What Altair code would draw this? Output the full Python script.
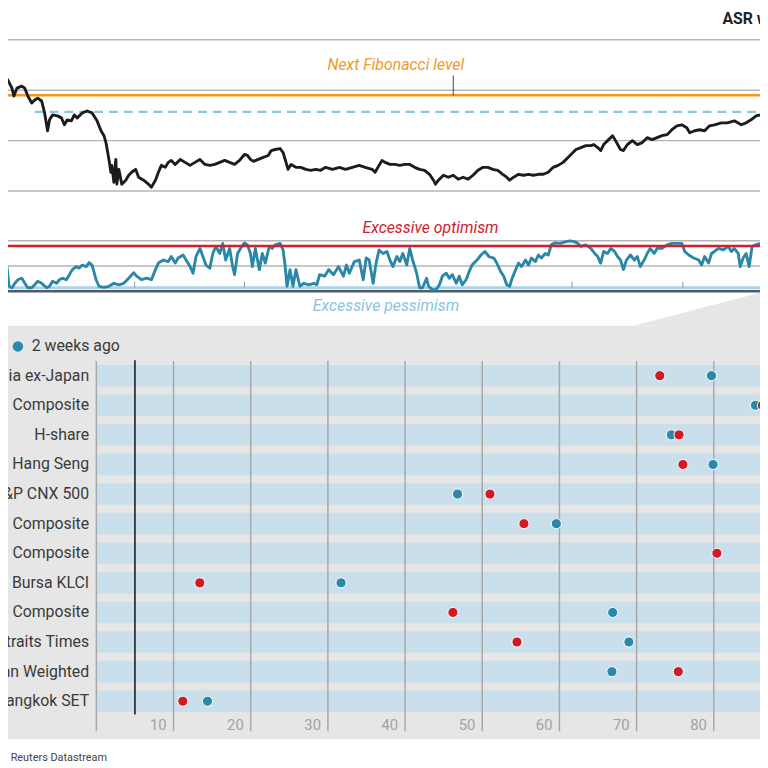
import altair as alt
import pandas as pd

FONT = "Roboto"
W, H = 760, 760

title_text = "ASR weekly sentiment"
source_text = "Source: Thomson Reuters Datastream"

# ---------------- price panel ----------------
price_t = [0, 5, 8, 12, 14, 17, 22, 25, 28, 32, 35, 38, 42, 45, 48, 50, 53, 58, 62, 65,
           68, 72, 75, 78, 83, 88, 93, 98, 102, 105, 107, 110, 112, 113, 115, 117, 118, 120, 123, 127,
           130, 133, 137, 140, 145, 150, 153, 157, 160, 163, 167, 170, 173, 177, 182, 187, 192, 197, 202, 207,
           212, 217, 222, 227, 232, 237, 242, 247, 250, 253, 256, 261, 266, 271, 274, 278, 283, 286, 289, 291,
           294, 299, 304, 309, 314, 319, 324, 329, 336, 343, 349, 356, 363, 369, 376, 379, 383, 386, 389, 394,
           399, 404, 409, 414, 419, 424, 429, 434, 438, 440, 443, 448, 453, 458, 463, 468, 473, 478, 483, 488,
           493, 498, 503, 508, 512, 515, 519, 524, 529, 534, 539, 544, 549, 554, 559, 564, 569, 574, 579, 582,
           587, 592, 597, 600, 604, 607, 610, 614, 619, 622, 627, 630, 634, 639, 644, 649, 654, 659, 664, 669,
           674, 679, 684, 689, 694, 697, 702, 707, 712, 717, 722, 729, 735, 742, 749, 754, 759, 764, 768]
price_v = [530.0, 527.5, 519.6, 503.9, 488.3, 503.9, 507.9, 503.9, 488.3, 474.5, 480.4, 484.3, 478.5, 454.9, 419.6, 441.2, 451.0, 449.0, 445.1, 431.4,
           441.2, 439.2, 451.0, 445.1, 454.9, 458.8, 454.9, 439.2, 419.6, 409.8, 396.1, 362.8, 337.3, 351.0, 317.6, 362.8, 313.7, 343.1, 313.7, 321.6,
           331.4, 337.3, 343.1, 327.5, 321.6, 313.7, 307.8, 321.6, 337.3, 351.0, 347.1, 356.9, 360.8, 352.9, 362.8, 356.9, 351.0, 356.9, 362.8, 352.9,
           351.0, 352.9, 356.9, 360.8, 356.9, 352.9, 360.8, 372.6, 370.6, 362.8, 358.8, 362.8, 366.7, 370.6, 380.4, 382.4, 384.3, 376.5, 356.9, 343.1,
           352.9, 347.1, 347.1, 343.1, 341.2, 343.1, 341.2, 347.1, 343.1, 347.1, 343.1, 347.1, 351.0, 347.1, 343.1, 337.3, 351.0, 360.8, 356.9, 352.9,
           352.9, 351.0, 352.9, 352.9, 347.1, 343.1, 341.2, 333.3, 321.6, 313.7, 321.6, 331.4, 327.5, 331.4, 323.5, 327.5, 323.5, 331.4, 341.2, 347.1,
           347.1, 343.1, 341.2, 333.3, 327.5, 321.6, 327.5, 333.3, 331.4, 333.3, 331.4, 333.3, 333.3, 337.3, 347.1, 351.0, 356.9, 366.7, 376.5, 382.4,
           386.3, 390.2, 390.2, 392.2, 386.3, 380.4, 392.2, 400.0, 409.8, 400.0, 382.4, 380.4, 392.2, 400.0, 392.2, 396.1, 405.9, 402.0, 405.9, 409.8,
           411.8, 421.6, 429.4, 431.4, 425.5, 415.7, 419.6, 421.6, 419.6, 429.4, 431.4, 435.3, 435.3, 439.2, 431.4, 435.3, 441.2, 449.0, 451.0]
assert len(price_t) == len(price_v)
price_grid = [300, 400, 500, 600]
fib_next = 490
fib_dash = 457
fib_dash_start = 35
fib_label_t = 458
fib_label_top = 529

# ---------------- sentiment oscillator ----------------
osc_t = [0, 3, 5, 7, 9, 12, 15, 18, 22, 25, 28, 32, 35, 38, 42, 47, 50, 53, 57, 60,
         63, 67, 70, 73, 77, 80, 83, 87, 90, 93, 97, 100, 105, 110, 115, 120, 125, 130, 135, 138,
         143, 148, 153, 157, 160, 165, 170, 173, 177, 180, 185, 188, 192, 195, 198, 202, 205, 208, 212, 215,
         218, 222, 225, 228, 232, 235, 237, 240, 243, 247, 250, 253, 255, 258, 262, 265, 268, 272, 275, 278,
         283, 286, 288, 290, 293, 296, 299, 303, 307, 312, 317, 320, 323, 328, 332, 337, 342, 347, 350, 353,
         358, 363, 367, 370, 373, 377, 380, 383, 387, 391, 394, 397, 401, 404, 407, 411, 414, 417, 421, 424,
         427, 431, 433, 437, 441, 444, 447, 451, 454, 457, 461, 464, 467, 471, 474, 477, 482, 486, 490, 494,
         499, 502, 506, 509, 512, 515, 517, 521, 524, 527, 531, 534, 537, 541, 544, 547, 551, 554, 557, 561,
         566, 571, 576, 581, 584, 587, 592, 597, 601, 604, 607, 610, 614, 617, 621, 624, 627, 630, 633, 637,
         641, 644, 647, 651, 654, 657, 661, 664, 669, 674, 679, 684, 689, 692, 696, 701, 706, 709, 712, 716,
         719, 722, 726, 731, 736, 739, 742, 746, 748, 751, 754, 757, 760, 764, 768]
osc_v = [56, 59, 36, 49, 10, 7, 16, 23, 26, 16, 7, 7, 13, 20, 16, 7, 10, 20, 16, 23,
         26, 23, 33, 43, 49, 46, 52, 49, 57, 52, 23, 10, 8, 10, 16, 13, 16, 26, 37, 30,
         23, 26, 23, 43, 56, 62, 59, 69, 56, 66, 72, 62, 49, 36, 69, 85, 69, 52, 46, 75,
         89, 75, 95, 62, 85, 49, 33, 75, 85, 96, 92, 75, 49, 85, 43, 75, 56, 89, 85, 92,
         95, 82, 52, 10, 43, 10, 43, 10, 16, 13, 16, 13, 33, 30, 43, 33, 49, 30, 52, 36,
         59, 62, 23, 66, 62, 16, 56, 82, 75, 79, 62, 49, 69, 59, 75, 52, 85, 62, 36, 7,
         7, 26, 10, 3, 4, 13, 30, 36, 26, 33, 16, 30, 13, 23, 39, 52, 62, 72, 79, 69,
         66, 56, 39, 30, 13, 10, 23, 43, 56, 49, 62, 52, 66, 59, 72, 66, 75, 72, 92, 96,
         95, 98, 100, 98, 95, 89, 92, 85, 75, 69, 56, 79, 75, 85, 79, 69, 62, 43, 62, 72,
         62, 69, 49, 62, 75, 85, 75, 85, 85, 92, 95, 95, 95, 79, 72, 66, 62, 52, 69, 56,
         75, 79, 85, 82, 89, 79, 85, 75, 49, 66, 75, 49, 89, 92, 95]
assert len(osc_t) == len(osc_v)
optimism = 90
pessimism = 7
osc_grid = [50, 100]
year_ticks = [136, 247, 578, 690]

# ---------------- dot plot ----------------
categories = ["MSCI Asia ex-Japan", "Shanghai Composite", "H-share", "Hang Seng",
              "S&P CNX 500", "Jakarta Composite", "Korea Composite", "FTSE Bursa KLCI",
              "Philippine Composite", "Straits Times", "Taiwan Weighted", "Bangkok SET"]
latest = [73.0, 86.3, 75.5, 76.0, 51.0, 55.4, 80.4, 13.4, 46.2, 54.5, 75.4, 11.2]
two_weeks = [79.7, 85.4, 74.5, 79.9, 46.8, 59.6, 88.0, 31.7, 66.9, 69.0, 66.8, 14.4]
dot_ticks = [10, 20, 30, 40, 50, 60, 70, 80]
dot_grid = [0] + dot_ticks
marker_line = 5
legend_label = "2 weeks ago"

RED = "#cf1b23"
TEAL = "#2a89a8"
GREY_BG = "#e6e6e6"

T_SCALE = alt.Scale(domain=[8, 768], range=[0, 760], zero=False, nice=False)
P_SCALE = alt.Scale(domain=[300, 600], range=[181, 28], zero=False, nice=False)
O_SCALE = alt.Scale(domain=[0, 100], range=[282.3, 231.3], zero=False, nice=False)
D_SCALE = alt.Scale(domain=[0, 90], range=[89.3, 791.3], zero=False, nice=False)
C_SCALE = alt.Scale(domain=categories, range=[352.6, 711.5], paddingInner=0.27, paddingOuter=0.135)

one = pd.DataFrame({"k": [0]})
price_df = pd.DataFrame({"t": price_t, "v": price_v})
osc_df = pd.DataFrame({"t": osc_t, "v": osc_v})
dots_df = pd.DataFrame({"cat": categories, "latest": latest, "two": two_weeks,
                        "x0": [0] * len(categories), "x1": [90] * len(categories)})

def tx(field="t"):
    return alt.X(f"{field}:Q", scale=T_SCALE, axis=None)

def py(field="v"):
    return alt.Y(f"{field}:Q", scale=P_SCALE, axis=None)

def oy(field="v"):
    return alt.Y(f"{field}:Q", scale=O_SCALE, axis=None)

def dx(field):
    return alt.X(f"{field}:Q", scale=D_SCALE, axis=None)

def cy():
    return alt.Y("cat:N", scale=C_SCALE, axis=None, sort=categories)

layers = []

# grey panel behind the dot plot and callout wedge
layers.append(alt.Chart(one).mark_rect(color=GREY_BG).encode(
    x=alt.value(0), x2=alt.value(W), y=alt.value(317), y2=alt.value(735)))
wedge = pd.DataFrame({"t": [640, 768], "top": [-68, -3], "bot": [-68, -68]})
layers.append(alt.Chart(wedge).mark_area(color=GREY_BG).encode(
    x=tx(), y=oy("top"), y2="bot:Q"))

# price panel
layers.append(alt.Chart(pd.DataFrame({"v": price_grid})).mark_rule(color="#b5b5b5", strokeWidth=1.5).encode(
    y=py(), x=alt.value(0), x2=alt.value(W)))
layers.append(alt.Chart(pd.DataFrame({"v": [fib_next]})).mark_rule(color="#f7941d", strokeWidth=2.5).encode(
    y=py(), x=alt.value(0), x2=alt.value(W)))
layers.append(alt.Chart(pd.DataFrame({"v": [fib_dash], "t": [fib_dash_start]})).mark_rule(
    color="#8ec6e0", strokeWidth=2.5, strokeDash=[9, 6]).encode(
    y=py(), x=tx(), x2=alt.value(W)))
layers.append(alt.Chart(price_df).mark_line(color="#1c1c1c", strokeWidth=2.9, strokeJoin="round").encode(
    x=tx(), y=py()))
layers.append(alt.Chart(pd.DataFrame({"t": [fib_label_t], "v": [fib_next], "v2": [fib_label_top]})).mark_rule(
    color="#444444", strokeWidth=1).encode(x=tx(), y=py(), y2="v2:Q"))
layers.append(alt.Chart(one).mark_text(text="Next Fibonacci level", font=FONT, fontSize=16, fontStyle="italic",
                                       color="#f39a2a", align="center", baseline="middle").encode(
    x=alt.value(392), y=alt.value(54)))
layers.append(alt.Chart(one).mark_text(text=title_text, font=FONT, fontSize=16, fontWeight="bold",
                                       color="#222222", align="left", baseline="middle").encode(
    x=alt.value(722), y=alt.value(7)))

# oscillator panel
layers.append(alt.Chart(pd.DataFrame({"v": osc_grid})).mark_rule(color="#b5b5b5", strokeWidth=1.5).encode(
    y=oy(), x=alt.value(0), x2=alt.value(W)))
layers.append(alt.Chart(pd.DataFrame({"v": [0]})).mark_rule(color="#555b60", strokeWidth=2.5).encode(
    y=oy(), x=alt.value(0), x2=alt.value(W)))
layers.append(alt.Chart(pd.DataFrame({"v": [pessimism]})).mark_rule(color="#a9d4ea", strokeWidth=3).encode(
    y=oy(), x=alt.value(0), x2=alt.value(W)))
layers.append(alt.Chart(pd.DataFrame({"t": year_ticks, "v": [pessimism] * len(year_ticks),
                                      "v2": [pessimism + 12] * len(year_ticks)})).mark_rule(
    color="#9a9a9a", strokeWidth=1).encode(x=tx(), y=oy(), y2="v2:Q"))
layers.append(alt.Chart(osc_df).mark_line(color="#2b87a6", strokeWidth=2.9, strokeJoin="round").encode(
    x=tx(), y=oy()))
layers.append(alt.Chart(pd.DataFrame({"v": [optimism]})).mark_rule(color="#d0202e", strokeWidth=2.5).encode(
    y=oy(), x=alt.value(0), x2=alt.value(W)))
layers.append(alt.Chart(one).mark_text(text="Excessive optimism", font=FONT, fontSize=16, fontStyle="italic",
                                       color="#d0202e", align="center", baseline="middle").encode(
    x=alt.value(427), y=alt.value(218)))
layers.append(alt.Chart(one).mark_text(text="Excessive pessimism", font=FONT, fontSize=16, fontStyle="italic",
                                       color="#8cc4df", align="center", baseline="middle").encode(
    x=alt.value(382), y=alt.value(297)))

# dot plot
layers.append(alt.Chart(dots_df).mark_rect(color="#c9e0ec").encode(
    y=cy(), x=dx("x0"), x2="x1:Q"))
layers.append(alt.Chart(pd.DataFrame({"g": dot_grid})).mark_rule(color="#a8a8a8", strokeWidth=1.5).encode(
    x=dx("g"), y=alt.value(352.7), y2=alt.value(727)))
layers.append(alt.Chart(pd.DataFrame({"g": [marker_line]})).mark_rule(color="#111111", strokeWidth=1.5).encode(
    x=dx("g"), y=alt.value(352), y2=alt.value(710)))
layers.append(alt.Chart(pd.DataFrame({"g": dot_ticks})).mark_text(
    font=FONT, fontSize=15, color="#a3a3a3", align="right", baseline="middle", dx=-7).encode(
    x=dx("g"), y=alt.value(721), text="g:Q"))
layers.append(alt.Chart(dots_df).mark_text(font=FONT, fontSize=16, color="#3a3a3a", align="right",
                                           baseline="middle").encode(
    x=alt.value(82), y=cy(), text="cat:N"))
layers.append(alt.Chart(dots_df).mark_circle(size=105, color=TEAL, opacity=1, stroke="white",
                                             strokeWidth=1).encode(x=dx("two"), y=cy()))
layers.append(alt.Chart(dots_df).mark_circle(size=105, color=RED, opacity=1, stroke="white",
                                             strokeWidth=1).encode(x=dx("latest"), y=cy()))

# legend
layers.append(alt.Chart(one).mark_circle(size=110, color=TEAL, opacity=1).encode(
    x=alt.value(10), y=alt.value(338)))
layers.append(alt.Chart(one).mark_text(text=legend_label, font=FONT, fontSize=16, color="#3a3a3a",
                                       align="left", baseline="middle").encode(
    x=alt.value(24), y=alt.value(338)))

# source
layers.append(alt.Chart(one).mark_text(text=source_text, font=FONT, fontSize=11, color="#444444",
                                       align="right", baseline="middle").encode(
    x=alt.value(100), y=alt.value(754)))

chart = alt.layer(*layers).resolve_scale(x="independent", y="independent").properties(
    width=W, height=H, padding=0, background="white",
    autosize=alt.AutoSizeParams(type="none")
).configure_view(strokeWidth=0)

chart.save("out.html", embed_options={"renderer": "svg", "actions": False})
